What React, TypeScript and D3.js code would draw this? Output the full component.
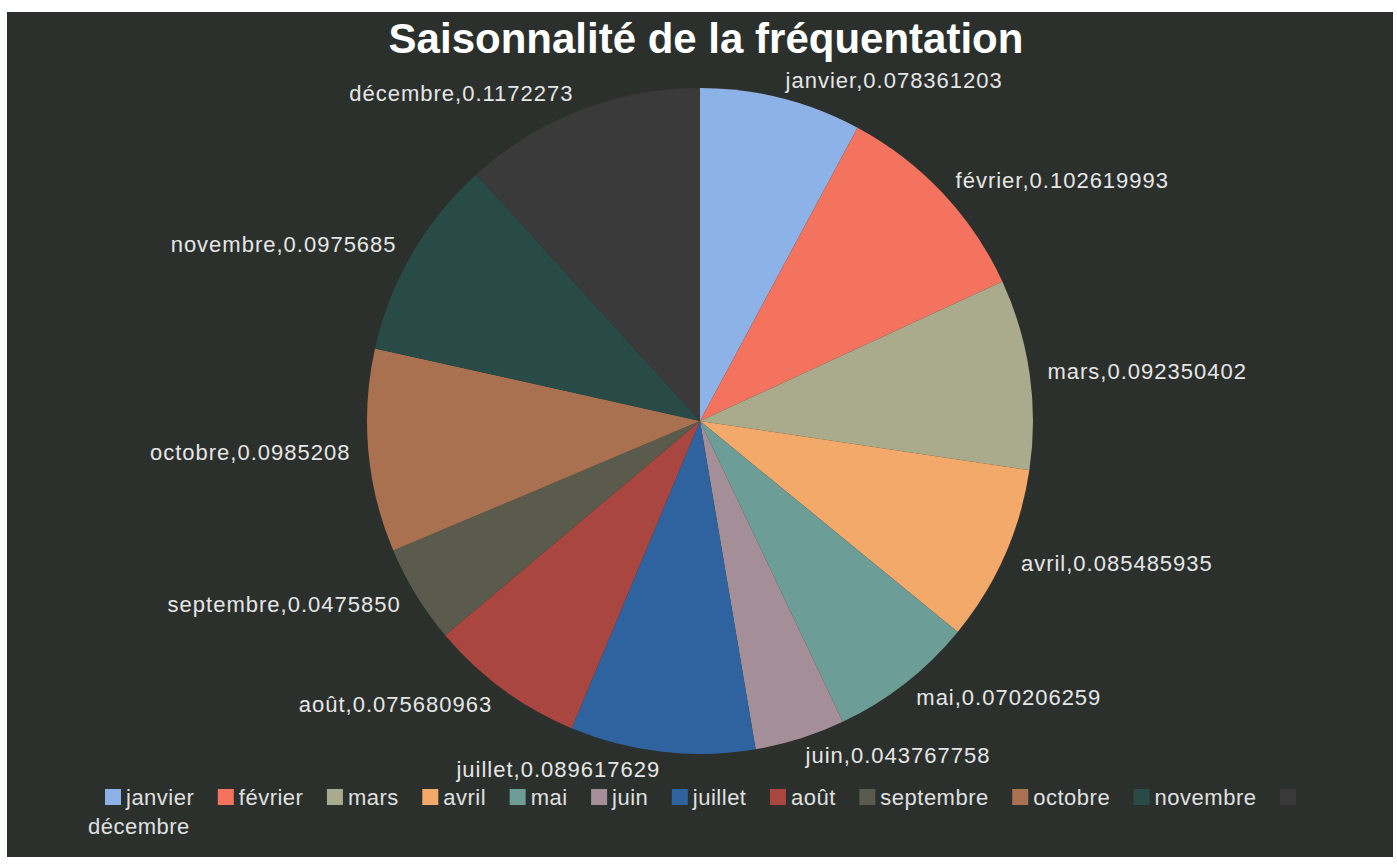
import React from "react";
import * as d3 from "d3";

const months = ["janvier", "février", "mars", "avril", "mai", "juin", "juillet", "août", "septembre", "octobre", "novembre", "décembre"];
const values = [0.078361203, 0.102619993, 0.092350402, 0.085485935, 0.070206259, 0.043767758, 0.089617629, 0.075680963, 0.0475850, 0.0985208, 0.0975685, 0.1172273];
const valueLabels = ["0.078361203", "0.102619993", "0.092350402", "0.085485935", "0.070206259", "0.043767758", "0.089617629", "0.075680963", "0.0475850", "0.0985208", "0.0975685", "0.1172273"];
const colors = ["#8db2e8", "#f4735f", "#a9ab8c", "#f2a96a", "#6d9d97", "#a48f98", "#2f63a0", "#a8463f", "#5b5b4d", "#a9714f", "#284b47", "#3b3a3a"];
const title = "Saisonnalité de la fréquentation";

const W = 1397;
const H = 864;
const FONT = "'Liberation Sans', Arial, sans-serif";
const LABEL_SIZE = 22;
const LABEL_SPACING = 1;
const LEGEND_SIZE = 22;
const LEGEND_SPACING = 0.5;

function measure(text: string, size: number, spacing: number) {
  const c = document.createElement("canvas").getContext("2d");
  if (!c) return text.length * size * 0.5;
  c.font = `${size}px ${FONT}`;
  return c.measureText(text).width + spacing * text.length;
}

export default function App() {
  const cx = 700;
  const cy = 421;
  const r = 333;
  const labelR = r + 18;

  const pie = d3.pie<number>().sort(null).value((d) => d)(values);
  const arc = d3.arc<d3.PieArcDatum<number>>().innerRadius(0).outerRadius(r);

  // legend layout
  const legendY = 797;
  const sq = 16;
  let lx = 105;
  const legendItems = months.map((m, i) => {
    const item = { m, i, x: lx, textX: lx + sq + 5, textY: legendY };
    const tw = measure(m, LEGEND_SIZE, LEGEND_SPACING);
    lx = item.textX + tw + 23.5;
    return item;
  });
  // the last item's text wraps to the next line
  const last = legendItems[legendItems.length - 1];
  last.textX = 88;
  last.textY = legendY + 29;

  return (
    <svg width={W} height={H} style={{ position: "absolute", left: 0, top: 0, display: "block" }}>
      <rect x={0} y={0} width={W} height={H} fill="#ffffff" />
      <rect x={7} y={12} width={1386} height={845} fill="#2c302d" />
      <text x={706} y={53} textAnchor="middle" fill="#ffffff" fontFamily={FONT} fontWeight="bold" fontSize={42}>
        {title}
      </text>
      <g transform={`translate(${cx},${cy})`}>
        {pie.map((d, i) => (
          <path key={months[i]} d={arc(d) || ""} fill={colors[i]} />
        ))}
        {pie.map((d, i) => {
          const a = (d.startAngle + d.endAngle) / 2;
          const x = labelR * Math.sin(a);
          const y = -labelR * Math.cos(a);
          return (
            <text
              key={"l" + months[i]}
              x={x}
              y={y}
              dy="0.35em"
              textAnchor={Math.sin(a) >= 0 ? "start" : "end"}
              fill="#e6e6e6"
              fontFamily={FONT}
              fontSize={LABEL_SIZE}
              letterSpacing={LABEL_SPACING}
            >
              {`${months[i]},${valueLabels[i]}`}
            </text>
          );
        })}
      </g>
      <g>
        {legendItems.map((it) => (
          <g key={"lg" + it.m}>
            <rect x={it.x} y={legendY - sq / 2} width={sq} height={sq} fill={colors[it.i]} />
            <text
              x={it.textX}
              y={it.textY}
              dy="0.35em"
              fill="#e0e0e0"
              fontFamily={FONT}
              fontSize={LEGEND_SIZE}
              letterSpacing={LEGEND_SPACING}
            >
              {it.m}
            </text>
          </g>
        ))}
      </g>
    </svg>
  );
}
